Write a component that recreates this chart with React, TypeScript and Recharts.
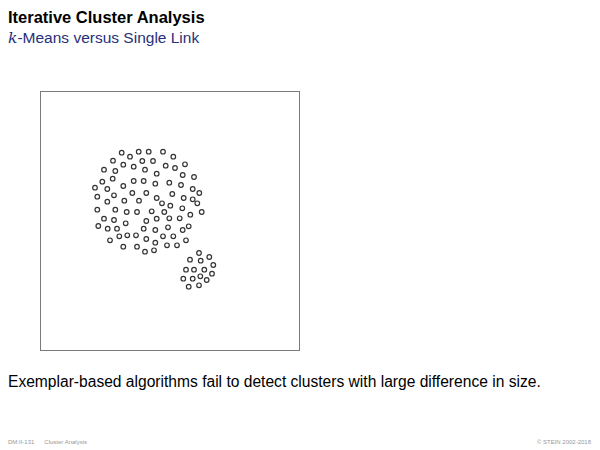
import React from 'react'
import { ScatterChart, Scatter, XAxis, YAxis } from 'recharts'

const bigCluster = [
  { x: 80.7, y: 60.7 }, { x: 97.7, y: 59.7 }, { x: 107.7, y: 59.7 }, { x: 122, y: 59.7 },
  { x: 89, y: 64.7 }, { x: 132.3, y: 64.7 }, { x: 72, y: 68.7 }, { x: 101.3, y: 69 },
  { x: 112, y: 69 }, { x: 82.3, y: 72.7 }, { x: 92.7, y: 74.7 }, { x: 124.7, y: 73.7 },
  { x: 134, y: 76 }, { x: 144, y: 72.3 }, { x: 63, y: 77.7 }, { x: 74.3, y: 79 },
  { x: 104, y: 77.7 }, { x: 115.7, y: 81.7 }, { x: 141.7, y: 83 }, { x: 153, y: 85 },
  { x: 71.7, y: 86.7 }, { x: 61.3, y: 89.7 }, { x: 92.7, y: 89 }, { x: 102.7, y: 89 },
  { x: 114.3, y: 91.7 }, { x: 128.3, y: 90.7 }, { x: 140, y: 93 }, { x: 54, y: 95.7 },
  { x: 82.3, y: 94 }, { x: 66.3, y: 97 }, { x: 151.7, y: 97 }, { x: 158.3, y: 101 },
  { x: 91.3, y: 101 }, { x: 105.3, y: 101 }, { x: 131.3, y: 102 }, { x: 56.3, y: 104.7 },
  { x: 73, y: 103.3 }, { x: 142.7, y: 106 }, { x: 151.7, y: 107.3 }, { x: 115.7, y: 106 },
  { x: 66.3, y: 109.7 }, { x: 83.3, y: 108.7 }, { x: 98, y: 108.7 }, { x: 121, y: 111.3 },
  { x: 129.3, y: 113.7 }, { x: 156.3, y: 111.3 }, { x: 56.3, y: 117.7 }, { x: 74.3, y: 117.7 },
  { x: 85.7, y: 120 }, { x: 96, y: 120 }, { x: 110.7, y: 119.3 }, { x: 123.3, y: 120 },
  { x: 141.3, y: 116.3 }, { x: 160.7, y: 120 }, { x: 149.3, y: 122.7 }, { x: 63, y: 126.7 },
  { x: 73, y: 128 }, { x: 115.7, y: 126.7 }, { x: 128.3, y: 126.3 }, { x: 138.7, y: 126.3 },
  { x: 105.3, y: 129 }, { x: 84.7, y: 131.3 }, { x: 57.3, y: 134 }, { x: 66.7, y: 136.7 },
  { x: 76, y: 136.7 }, { x: 102.7, y: 136.7 }, { x: 114.3, y: 138 }, { x: 127, y: 135.3 },
  { x: 141.7, y: 138 }, { x: 147.7, y: 134.3 }, { x: 78.3, y: 144.3 }, { x: 86.3, y: 143.3 },
  { x: 95, y: 143.3 }, { x: 105.3, y: 147 }, { x: 122, y: 144.3 }, { x: 132.3, y: 144.3 },
  { x: 69, y: 148.3 }, { x: 114.3, y: 150.7 }, { x: 145, y: 148.3 }, { x: 82.3, y: 154.7 },
  { x: 96, y: 154.7 }, { x: 126, y: 153.3 }, { x: 136, y: 153.3 }, { x: 104, y: 159.7 },
  { x: 113, y: 158.3 },
]

const smallCluster = [
  { x: 158, y: 161 }, { x: 149, y: 167.7 }, { x: 159.7, y: 168.7 }, { x: 168.3, y: 165 },
  { x: 172.3, y: 173 }, { x: 145, y: 177.7 }, { x: 153, y: 177.7 }, { x: 163.3, y: 177.7 },
  { x: 171, y: 181.7 }, { x: 142.3, y: 186.7 }, { x: 151.7, y: 186.7 }, { x: 159.3, y: 184.3 },
  { x: 165.7, y: 188 }, { x: 147.7, y: 194.7 }, { x: 158, y: 193.3 },
]

const BOX = 258
const font = '"Liberation Sans", Arial, Helvetica, sans-serif'

const Ring = (props: any) => (
  <circle cx={props.cx} cy={props.cy} r={2.3} fill="#fff" stroke="#333" strokeWidth={1.2} />
)

const App: React.FC = () => {
  return (
    <div
      style={{
        position: 'absolute',
        left: 0,
        top: 0,
        width: 600,
        height: 450,
        background: '#fff',
        fontFamily: font,
        overflow: 'hidden',
      }}
    >
      <div style={{ position: 'absolute', left: 8, top: 8, fontSize: 16.5, fontWeight: 'bold', color: '#000' }}>
        Iterative Cluster Analysis
      </div>
      <div style={{ position: 'absolute', left: 8, top: 29, fontSize: 15.5, color: '#27307a' }}>
        <span style={{ fontFamily: '"DejaVu Serif", "Liberation Serif", serif', fontStyle: 'italic' }}>k</span>
        -Means versus Single Link
      </div>

      <div
        style={{
          position: 'absolute',
          left: 40,
          top: 91,
          width: BOX,
          height: BOX,
          border: '1.5px solid #7a7a7a',
        }}
      >
        <ScatterChart width={BOX} height={BOX} margin={{ top: 0, right: 0, bottom: 0, left: 0 }}>
          <XAxis type="number" dataKey="x" domain={[0, BOX]} hide />
          <YAxis type="number" dataKey="y" domain={[0, BOX]} reversed hide />
          <Scatter data={bigCluster} shape={Ring} isAnimationActive={false} />
          <Scatter data={smallCluster} shape={Ring} isAnimationActive={false} />
        </ScatterChart>
      </div>

      <div style={{ position: 'absolute', left: 8, top: 373, fontSize: 15.6, color: '#000' }}>
        Exemplar-based algorithms fail to detect clusters with large difference in size.
      </div>

      <div style={{ position: 'absolute', left: 8, top: 439, fontSize: 6, color: '#999' }}>
        DM:II-131
        <span style={{ marginLeft: 10 }}>Cluster Analysis</span>
      </div>
      <div style={{ position: 'absolute', right: 9, top: 439, fontSize: 6, color: '#999' }}>
        © STEIN 2002-2018
      </div>
    </div>
  )
}

export default App
